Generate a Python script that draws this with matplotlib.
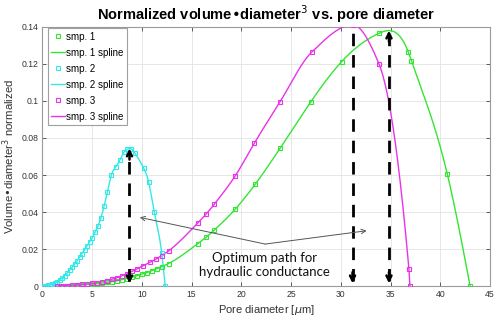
import numpy as np
import matplotlib
matplotlib.use("Agg")
import matplotlib.pyplot as plt

# ---- data ----
x1 = [1.5, 2.0, 2.5, 3.0, 3.5, 4.0, 4.5, 5.0, 5.5, 6.0, 6.5, 7.0, 7.5, 8.0, 8.5, 9.0,
      9.5, 10.0, 10.5, 11.0, 11.5, 12.0, 12.7, 15.6, 16.45, 17.3, 19.4, 21.4, 23.9,
      27.0, 30.1, 33.87, 36.8, 37.1, 40.7, 43.0]
y1 = [0.0, 0.0001, 0.0002, 0.0003, 0.0004, 0.0006, 0.0008, 0.0010, 0.0013, 0.0016,
      0.0020, 0.0024, 0.0029, 0.0035, 0.0041, 0.0048, 0.0056, 0.0064, 0.0073, 0.0083,
      0.0094, 0.0105, 0.0122, 0.0228, 0.0263, 0.0303, 0.0416, 0.0550, 0.0744,
      0.0996, 0.1213, 0.1366, 0.1263, 0.1218, 0.0607, 0.0]

x2 = [0.0, 0.2, 0.4, 0.6, 0.8, 1.0, 1.25, 1.5, 1.75, 2.0, 2.25, 2.5, 2.75, 3.0, 3.25,
      3.5, 3.75, 4.0, 4.25, 4.5, 4.75, 5.0, 5.3, 5.6, 5.9, 6.2, 6.55, 6.95, 7.4, 7.8,
      8.2, 8.55, 8.95, 9.3, 10.2, 10.7, 11.25, 12.0, 12.35]
y2 = [0.0, 0.0001, 0.0002, 0.0004, 0.0006, 0.0010, 0.0016, 0.0024, 0.0034, 0.0045,
      0.0057, 0.0071, 0.0086, 0.0102, 0.0119, 0.0137, 0.0156, 0.0176, 0.0196, 0.0217,
      0.0238, 0.0260, 0.0290, 0.0325, 0.0370, 0.0430, 0.0510, 0.0600, 0.0645, 0.0680,
      0.0722, 0.0740, 0.0740, 0.0718, 0.0636, 0.0560, 0.0400, 0.0180, 0.0]

x3 = [1.5, 2.0, 2.5, 3.0, 3.5, 4.0, 4.5, 5.0, 5.5, 6.0, 6.5, 7.0, 7.5, 8.0, 8.5, 9.0,
      9.55, 10.15, 10.8, 11.4, 12.0, 12.7, 15.6, 16.45, 17.3, 19.4, 21.3, 23.9, 27.07,
      31.2, 33.84, 36.85, 36.95]
y3 = [0.0, 0.0002, 0.0003, 0.0005, 0.0007, 0.0009, 0.0012, 0.0015, 0.0019, 0.0024,
      0.0030, 0.0037, 0.0045, 0.0055, 0.0066, 0.0079, 0.0094, 0.0110, 0.0128, 0.0145,
      0.0165, 0.0190, 0.0339, 0.0388, 0.0443, 0.0596, 0.0771, 0.0996, 0.1263,
      0.1411, 0.1200, 0.0092, 0.0]

labels = ["smp. 1", "smp. 1 spline", "smp. 2", "smp. 2 spline", "smp. 3", "smp. 3 spline"]
colors = ["#33e633", "#33e8e8", "#e833e8"]
spline_kind = ["natural", "natural", "pchip"]
xticks = list(range(0, 46, 5))
yticks = [0, 0.02, 0.04, 0.06, 0.08, 0.1, 0.12, 0.14]
ytick_labels = ["0", "0.02", "0.04", "0.06", "0.08", "0.1", "0.12", "0.14"]


def natural_spline(x, y, n=800):
    x = np.asarray(x, float)
    y = np.asarray(y, float)
    h = np.diff(x)
    nn = len(x)
    A = np.zeros((nn, nn))
    r = np.zeros(nn)
    A[0, 0] = 1
    A[-1, -1] = 1
    for i in range(1, nn - 1):
        A[i, i - 1] = h[i - 1]
        A[i, i] = 2 * (h[i - 1] + h[i])
        A[i, i + 1] = h[i]
        r[i] = 3 * ((y[i + 1] - y[i]) / h[i] - (y[i] - y[i - 1]) / h[i - 1])
    c = np.linalg.solve(A, r)
    b = (y[1:] - y[:-1]) / h - h * (2 * c[:-1] + c[1:]) / 3
    d = (c[1:] - c[:-1]) / (3 * h)
    xs = np.linspace(x[0], x[-1], n)
    idx = np.clip(np.searchsorted(x, xs) - 1, 0, nn - 2)
    dx = xs - x[idx]
    ys = y[idx] + b[idx] * dx + c[idx] * dx ** 2 + d[idx] * dx ** 3
    return xs, ys


def pchip(x, y, n=800):
    x = np.asarray(x, float)
    y = np.asarray(y, float)
    h = np.diff(x)
    delta = np.diff(y) / h
    nn = len(x)
    m = np.zeros(nn)
    for k in range(1, nn - 1):
        if delta[k - 1] * delta[k] > 0:
            w1 = 2 * h[k] + h[k - 1]
            w2 = h[k] + 2 * h[k - 1]
            m[k] = (w1 + w2) / (w1 / delta[k - 1] + w2 / delta[k])
    m[0] = delta[0]
    m[-1] = delta[-1]
    xs = np.linspace(x[0], x[-1], n)
    idx = np.clip(np.searchsorted(x, xs) - 1, 0, nn - 2)
    t = (xs - x[idx]) / h[idx]
    h00 = 2 * t ** 3 - 3 * t ** 2 + 1
    h10 = t ** 3 - 2 * t ** 2 + t
    h01 = -2 * t ** 3 + 3 * t ** 2
    h11 = t ** 3 - t ** 2
    ys = h00 * y[idx] + h10 * h[idx] * m[idx] + h01 * y[idx + 1] + h11 * h[idx] * m[idx + 1]
    return xs, ys


plt.rcParams["font.family"] = ["Liberation Sans", "DejaVu Sans"]
fig = plt.figure(figsize=(5.0, 3.24), dpi=100)
ax = fig.add_axes([0.0846, 0.117, 0.8954, 0.8])

handles = []
peaks = []
for (xx, yy, col, kind) in [(x1, y1, colors[0], spline_kind[0]),
                            (x2, y2, colors[1], spline_kind[1]),
                            (x3, y3, colors[2], spline_kind[2])]:
    xs, ys = natural_spline(xx, yy) if kind == "natural" else pchip(xx, yy)
    ln, = ax.plot(xs, ys, color=col, lw=1.0, zorder=3)
    mk, = ax.plot(xx, yy, ls="none", marker="s", ms=3.2, mfc="none", mec=col, mew=0.8, zorder=4)
    handles += [mk, ln]
    k = int(np.argmax(ys))
    peaks.append((xs[k], ys[k]))

# dashed double arrows at each optimum
for px, py in peaks:
    ax.plot([px, px], [0.003, py - 0.003], color="k", lw=2.0, dashes=(4.5, 3.2), zorder=5)
    ax.annotate("", xy=(px, py), xytext=(px, py - 0.006),
                arrowprops=dict(arrowstyle="->", lw=1.8, color="k", mutation_scale=9,
                                shrinkA=0, shrinkB=0), zorder=6)
    ax.annotate("", xy=(px, 0.0015), xytext=(px, 0.0075),
                arrowprops=dict(arrowstyle="->", lw=1.8, color="k", mutation_scale=9,
                                shrinkA=0, shrinkB=0), zorder=6)

# annotation text with pointer arrows
vx, vy = 22.4, 0.0227
for tx, ty in [(9.8, 0.0371), (32.6, 0.0299)]:
    ax.annotate("", xy=(tx, ty), xytext=(vx, vy),
                arrowprops=dict(arrowstyle="->", lw=0.7, color="#555555", mutation_scale=8,
                                shrinkA=0, shrinkB=0), zorder=6)
ax.text(22.35, 0.0115, "Optimum path for\nhydraulic conductance", ha="center", va="center",
        fontsize=9.5, family=["Lato", "DejaVu Sans"], linespacing=1.2, color="#111111", zorder=7)

ax.set_xlim(0, 45)
ax.set_ylim(0, 0.14)
ax.set_xticks(xticks)
ax.set_xticklabels([str(t) for t in xticks])
ax.set_yticks(yticks)
ax.set_yticklabels(ytick_labels)
ax.grid(True, color="#e3e3e3", lw=0.6)
ax.set_axisbelow(True)
ax.tick_params(direction="in", top=True, right=True, length=3, width=0.6,
               labelsize=6.2, colors="#444444", labelcolor="#333333", pad=3)
for s in ax.spines.values():
    s.set_color("#9a9a9a")
    s.set_linewidth(0.8)

ax.set_title("Normalized volume\u2022diameter$^3$ vs. pore diameter", fontsize=10.5,
             fontweight="bold", pad=5)
ax.set_xlabel("Pore diameter [$\\mu$m]", fontsize=8, color="#333333", labelpad=3)
ax.set_ylabel("Volume\u2022diameter$^3$ normalized", fontsize=8.2, color="#333333", labelpad=3)

leg = ax.legend(handles, labels, loc="upper left", bbox_to_anchor=(0.012, 0.995),
                fontsize=7, frameon=True, fancybox=False, framealpha=1, edgecolor="#a0a0a0",
                handlelength=1.4, handletextpad=0.15, labelspacing=0.62, borderpad=0.35,
                borderaxespad=0.0)
leg.get_frame().set_linewidth(0.8)

fig.savefig("out.png", dpi=100)
